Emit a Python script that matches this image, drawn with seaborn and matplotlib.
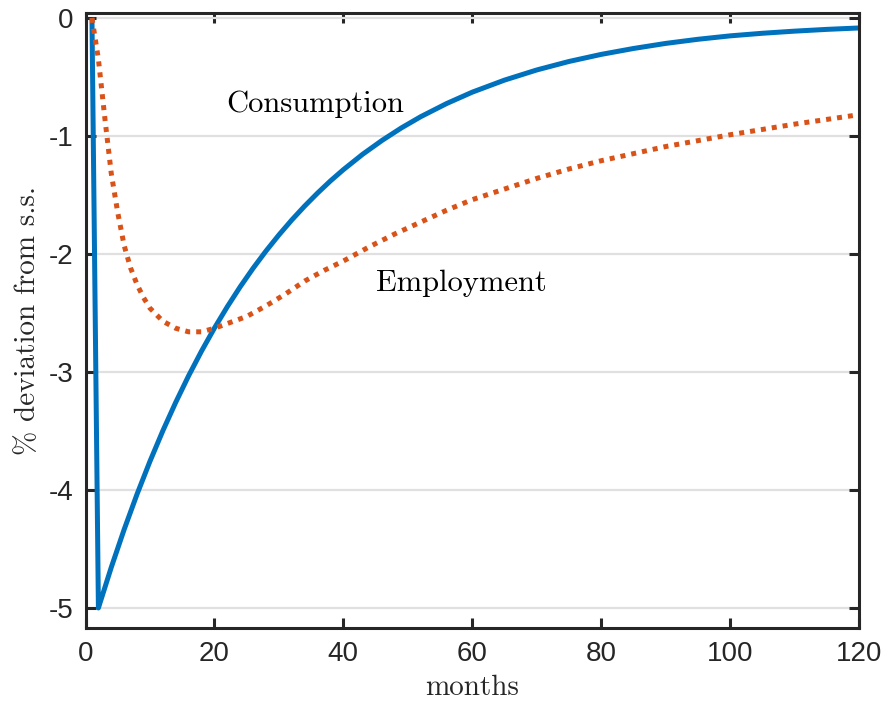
import numpy as np
import pandas as pd
import matplotlib
matplotlib.use("Agg")
import matplotlib.pyplot as plt
import seaborn as sns

# Consumption response (months, % deviation from s.s.)
cons_months = [1, 2, 4, 6, 8, 10, 12, 14, 16, 18, 20, 22, 24, 26, 28, 30, 32, 34,
               36, 38, 40, 43, 46, 49, 52, 56, 60, 65, 70, 75, 80, 85, 90, 95, 100,
               105, 110, 115, 120]
cons_dev = [0.0, -5.0, -4.655, -4.334, -4.035, -3.757, -3.498, -3.257, -3.032, -2.823,
            -2.628, -2.447, -2.278, -2.121, -1.975, -1.839, -1.712, -1.594, -1.484,
            -1.381, -1.286, -1.155, -1.038, -0.932, -0.837, -0.726, -0.629, -0.527,
            -0.441, -0.369, -0.309, -0.259, -0.216, -0.181, -0.152, -0.130, -0.112,
            -0.097, -0.085]

# Employment response
emp_months = [1, 2, 3, 4, 5, 6, 7, 8, 9, 10, 12, 14, 16, 18, 20, 22, 25, 28, 31, 34,
              37, 40, 44, 48, 52, 56, 60, 65, 70, 75, 80, 85, 90, 95, 100, 105, 110,
              115, 120]
emp_dev = [0.0, -0.35, -0.85, -1.32, -1.65, -1.93, -2.12, -2.26, -2.37, -2.46, -2.57,
           -2.63, -2.66, -2.66, -2.63, -2.59, -2.53, -2.44, -2.34, -2.23, -2.14, -2.06,
           -1.94, -1.83, -1.73, -1.63, -1.54, -1.45, -1.36, -1.28, -1.21, -1.15, -1.09,
           -1.04, -0.99, -0.945, -0.90, -0.86, -0.82]

y_ticks = [0, -1, -2, -3, -4, -5]
x_ticks = [0, 20, 40, 60, 80, 100, 120]

cons = pd.DataFrame({"months": cons_months, "dev": cons_dev})
emp = pd.DataFrame({"months": emp_months, "dev": emp_dev})

sns.set_style("ticks")
plt.rcParams["font.family"] = ["Liberation Sans", "DejaVu Sans"]
plt.rcParams["axes.unicode_minus"] = False

fig = plt.figure(figsize=(8.88, 7.05), dpi=100)
ax = fig.add_axes([0.0963, 0.1092, 0.8711, 0.8724])

sns.lineplot(data=cons, x="months", y="dev", ax=ax, color="#0072BD", lw=3.6,
             solid_capstyle="butt", solid_joinstyle="round")
sns.lineplot(data=emp, x="months", y="dev", ax=ax, color="#D95319", lw=3.6,
             linestyle=(0, (1, 1.2)), dash_capstyle="butt")

ax.set_xlim(0, 120)
ax.set_ylim(-5.17, 0.042)
ax.set_xticks(x_ticks)
ax.set_yticks(y_ticks)
ax.set_xticklabels([str(v) for v in x_ticks])
ax.set_yticklabels([str(v) for v in y_ticks])

ax.yaxis.grid(True, color="#e0e0e0", lw=1.6)
ax.xaxis.grid(False)
ax.set_axisbelow(True)

for s in ax.spines.values():
    s.set_visible(True)
    s.set_linewidth(2.2)
    s.set_color("#262626")
ax.tick_params(direction="in", top=True, right=True, length=7, width=2.2,
               color="#262626", labelcolor="#262626", labelsize=20, pad=9)

ax.set_xlabel("months", family="cmr10", fontsize=21, color="#262626", labelpad=6)
ax.set_ylabel("% deviation from s.s.", family="cmr10", fontsize=21,
              color="#262626", labelpad=5)

ax.text(21.8, -0.73, "Consumption", family="cmr10", fontsize=22,
        ha="left", va="center", color="black")
ax.text(45, -2.25, "Employment", family="cmr10", fontsize=22,
        ha="left", va="center", color="black")

fig.savefig("out.png", dpi=100)
